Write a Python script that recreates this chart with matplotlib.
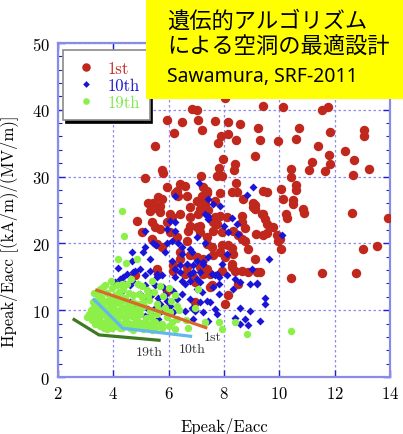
import matplotlib.pyplot as plt
from matplotlib.patches import Rectangle

plt.rcParams['font.family'] = ['cmr10', 'DejaVu Serif']
plt.rcParams['axes.formatter.use_mathtext'] = True

# 1st generation
gen1_x = [8.03, 6.83, 7.01, 9.41, 10.12, 11.53, 11.75,
          5.95, 6.47, 7.07, 7.67, 8.13, 8.58, 9.24, 7.19, 6.20, 10.71, 11.83, 13.04, 13.04,
          7.89, 8.13, 8.42, 7.77, 9.30, 9.96, 10.60, 5.51, 11.39, 12.37, 9.12, 11.79, 7.95, 12.71, 11.17,
          8.40, 11.83, 7.82, 8.37, 10.42, 11.08, 11.65, 13.23, 5.75, 5.81, 5.14, 7.16, 7.74, 7.92, 10.42, 12.65,
          8.43, 5.95, 6.41, 6.59, 7.24, 7.37, 8.28, 8.46, 6.29, 10.59, 10.60, 10.06, 9.42, 9.54,
          13.91, 12.61, 13.01, 13.52, 12.77, 11.53, 10.42,
          10.14, 10.50, 10.48, 10.24, 10.29, 10.87, 10.89,
          9.42, 9.48, 9.78, 9.54, 9.42, 9.90, 10.02, 10.06, 9.14,
          9.12, 9.12, 8.76, 8.70, 8.64, 8.88, 9.12, 9.18, 9.30,
          7.85, 7.67, 7.13, 7.43, 9.06, 9.06,
          7.67, 7.85, 8.10, 8.64, 9.36, 9.54,
          7.61, 7.74, 7.13, 7.61, 7.92, 8.34, 8.52, 8.64, 8.76, 9.96,
          7.37, 7.55, 7.61, 7.92, 8.16, 8.28, 8.34, 7.85, 8.04,
          8.28, 8.28, 8.64, 8.88, 7.92, 8.40, 7.13, 7.37,
          5.26, 5.44, 5.62, 5.75, 5.69, 5.62, 5.69, 5.32, 6.23, 6.35, 6.65, 7.01, 7.19, 7.37,
          6.77, 7.31, 6.05, 6.11, 5.93, 6.41, 6.77, 7.07, 4.84, 5.39, 5.51, 5.69, 5.02,
          6.77, 6.71, 7.01, 7.13, 7.37, 6.05, 6.29, 6.65, 5.39, 5.57, 5.75,
          6.41, 6.41, 6.77, 7.01, 7.25, 6.17, 5.57, 4.78, 6.65,
          6.17, 6.59, 6.89, 6.95, 7.25, 7.49, 7.55, 8.16, 8.52, 5.93, 6.95, 8.04, 7.49, 5.31, 5.61]
gen1_y = [41.7, 40.1, 39.9, 40.6, 40.4, 40.0, 40.4,
          38.5, 38.1, 38.4, 38.3, 38.2, 37.9, 37.3, 37.0, 36.5, 37.3, 36.7, 36.9, 36.1,
          36.0, 36.4, 35.5, 35.0, 35.5, 35.3, 35.6, 34.5, 34.6, 33.9, 33.1, 33.3, 32.7, 32.5, 32.2,
          31.9, 31.9, 31.3, 31.0, 31.1, 31.0, 30.9, 31.2, 31.0, 30.5, 29.8, 30.1, 30.1, 30.1, 29.9, 30.2,
          29.0, 28.5, 28.9, 28.6, 28.4, 27.9, 27.7, 27.7, 27.9, 28.8, 28.0, 28.2, 27.8, 27.7,
          23.8, 24.6, 19.2, 19.6, 15.5, 15.6, 14.8,
          26.7, 26.5, 25.9, 24.4, 23.8, 25.2, 24.6,
          24.4, 23.7, 22.5, 21.6, 21.3, 21.3, 20.7, 19.2, 21.4,
          25.7, 25.2, 22.3, 26.6, 24.1, 19.2, 17.7, 15.7, 15.7,
          27.6, 26.4, 25.2, 25.0, 26.1, 25.4,
          24.0, 24.1, 24.0, 23.2, 24.4, 22.9,
          23.2, 22.9, 22.6, 21.8, 21.7, 21.9, 21.2, 20.7, 20.4, 20.4,
          19.9, 19.4, 18.2, 19.7, 19.7, 19.3, 18.4, 18.7, 17.9,
          16.9, 16.4, 15.8, 15.7, 15.9, 15.8, 16.4, 16.2,
          26.0, 26.1, 26.9, 26.6, 25.6, 25.2, 24.7, 24.9, 27.6, 27.1, 27.1, 26.4, 27.1, 27.6,
          25.4, 25.9, 24.4, 23.9, 23.2, 24.4, 23.9, 24.4, 23.4, 23.2, 22.4, 22.2, 21.7,
          22.6, 21.9, 22.4, 21.7, 20.9, 21.7, 20.9, 20.4, 20.7, 19.9, 19.4,
          18.7, 17.7, 18.2, 17.9, 17.7, 16.7, 16.2, 15.2, 16.4,
          15.9, 15.4, 14.9, 14.2, 15.4, 15.4, 13.7, 12.2, 13.9, 12.9, 11.2, 10.9, 13.4, 12.4, 15.4]

# 10th generation
gen10_x = [7.11, 9.06, 6.23, 8.82, 7.43, 7.61, 7.85, 7.31, 7.43, 8.28, 7.43, 7.98, 8.46, 8.16, 8.52,
           10.08, 9.64, 9.48,
           6.05, 6.23, 5.93, 6.23, 5.14, 5.44, 5.55, 5.93, 6.11, 6.35, 5.14, 4.66, 5.08, 5.87,
           6.47, 6.47, 6.77, 6.83, 7.01, 7.31, 4.66, 5.32, 6.11, 6.41, 6.65, 7.01, 7.25,
           4.18, 4.96, 4.72, 5.32, 5.57, 5.57, 6.23, 6.41, 6.77, 6.89, 7.13,
           8.10, 7.43, 7.92, 9.00, 7.55, 8.10, 7.74, 6.89, 7.25,
           5.75, 6.23, 6.47, 6.77, 7.13, 7.19, 7.67, 7.80, 7.61, 7.80, 8.40, 8.58, 8.94, 9.18,
           8.58, 8.94, 9.48, 9.30, 8.40, 8.58, 8.76, 7.49, 7.37, 7.43, 7.67, 7.74, 7.13,
           6.77, 6.83, 6.47, 6.17, 6.29, 5.93, 6.05, 5.81, 6.59, 7.01, 7.25, 6.95,
           4.77, 5.13, 4.41, 4.59, 4.89, 5.13, 5.49, 4.71, 4.95, 5.13, 5.37, 5.61, 5.86,
           4.77, 5.07, 5.25, 5.49, 5.73, 5.13, 5.37, 5.61, 4.59, 4.29,
           4.66, 7.01, 7.83, 8.34, 9.20, 5.69, 6.17, 6.59, 6.89, 8.88, 4.05, 4.23, 4.35, 4.50]
gen10_y = [29.1, 28.4, 27.1, 27.2, 26.6, 25.9, 25.6, 24.4, 24.1, 23.8, 23.6, 22.6, 22.9, 21.7, 21.4,
           21.2, 17.6, 11.9,
           23.4, 23.2, 22.2, 21.8, 21.9, 20.1, 19.7, 20.1, 20.3, 20.1, 19.4, 18.7, 18.7, 18.7,
           19.4, 18.4, 19.2, 18.7, 20.9, 20.1, 17.4, 17.7, 17.4, 16.7, 16.9, 17.4, 16.9,
           16.3, 16.2, 15.7, 15.9, 15.4, 14.9, 16.2, 15.7, 15.4, 15.7, 15.7,
           18.4, 17.9, 16.9, 16.2, 15.4, 15.2, 15.4, 16.7, 17.2,
           15.2, 14.9, 14.4, 14.4, 14.2, 12.7, 15.2, 14.9, 13.4, 12.4, 14.7, 14.2, 13.9, 13.9,
           10.4, 9.9, 10.9, 8.4, 8.9, 7.9, 8.7, 11.2, 11.4, 8.4, 10.2, 9.4, 11.2,
           11.7, 10.4, 12.4, 12.9, 11.7, 11.4, 10.7, 13.4, 13.9, 13.2, 9.7, 9.9,
           15.9, 15.2, 13.9, 13.7, 13.9, 13.7, 13.7, 12.2, 12.4, 11.9, 12.2, 11.9, 12.2,
           10.7, 10.7, 10.2, 10.4, 9.9, 9.2, 9.4, 8.7, 11.2, 12.7,
           14.4, 14.7, 13.9, 13.2, 14.0, 10.9, 9.7, 9.9, 8.7, 7.8, 14.2, 14.7, 15.0, 15.4]

# 19th generation
gen19_x = [4.31, 4.40, 4.18, 4.46, 4.84, 4.30, 4.48, 7.07, 8.40, 8.84, 10.42,
           6.23, 6.29, 6.05, 6.29, 6.71, 6.23, 5.75, 6.95, 7.80, 7.92, 7.31,
           3.92, 4.63, 5.41,
           3.71, 4.12, 4.88, 5.68,
           3.52, 3.96, 4.34, 5.21, 6.02,
           3.31, 3.77, 4.19, 4.56, 4.92, 5.47,
           3.56, 3.88, 4.27, 4.43, 5.03, 5.81,
           3.42, 3.69, 4.02, 4.36, 4.71, 5.28, 6.08,
           3.49, 3.86, 4.11, 4.52, 4.88, 5.56,
           3.29, 3.61, 3.94, 4.31, 4.66, 5.12, 5.88,
           3.18, 3.46, 3.79, 4.16, 4.44, 4.81, 5.33, 6.38,
           3.11, 3.36, 3.64, 3.97, 4.29, 4.62, 4.96, 5.58,
           3.04, 3.41, 3.72, 4.01, 4.37, 4.69, 5.19, 5.93,
           3.21, 3.52, 3.84, 4.14, 4.51, 4.86, 5.44, 6.62,
           3.32, 3.59, 3.96, 4.26, 4.64, 5.02, 5.31, 5.71,
           3.51, 3.81, 4.09, 4.46, 4.84, 5.16, 5.52, 6.01,
           3.76, 4.31, 4.72, 5.06, 5.39,
           3.61, 4.36, 5.02,
           3.46, 4.06, 4.71, 5.24,
           3.26, 3.62, 4.21, 4.61, 5.06,
           3.36, 3.66, 4.02, 4.29, 4.59, 5.01, 5.62,
           3.24, 3.56, 3.86, 4.16, 4.49, 4.79, 5.36,
           3.41, 3.74, 4.06, 4.41, 4.76, 5.14, 5.49, 6.11,
           3.66, 3.94, 4.24, 4.61, 5.29, 5.76]
gen19_y = [24.9, 21.1, 17.7, 17.1, 17.7, 13.9, 13.9, 13.1, 8.2, 6.4, 6.9,
           12.2, 10.7, 9.7, 8.7, 7.4, 7.2, 7.9, 10.4, 8.2, 7.2, 8.2,
           14.4, 14.6, 14.3,
           13.8, 13.7, 13.9, 13.6,
           13.1, 13.3, 13.2, 13.0, 13.3,
           12.6, 12.5, 12.7, 12.6, 12.4, 12.7,
           12.0, 11.9, 12.1, 11.8, 12.0, 12.1,
           11.5, 11.4, 11.6, 11.5, 11.3, 11.6, 11.4,
           11.0, 10.9, 11.1, 10.8, 11.0, 10.9,
           10.5, 10.4, 10.6, 10.5, 10.3, 10.6, 10.4,
           10.0, 9.9, 10.1, 9.8, 10.0, 10.1, 9.9, 10.0,
           9.5, 9.4, 9.6, 9.5, 9.3, 9.6, 9.4, 9.5,
           9.0, 8.9, 9.1, 8.9, 9.0, 9.1, 8.9, 9.0,
           8.5, 8.4, 8.6, 8.5, 8.3, 8.6, 8.4, 8.5,
           8.0, 7.9, 8.1, 8.0, 7.9, 8.1, 7.9, 8.0,
           7.6, 7.5, 7.7, 7.6, 7.5, 7.6, 7.4, 7.6,
           7.2, 7.3, 7.1, 7.2, 7.1,
           13.5, 13.4, 13.6,
           12.3, 12.2, 12.3, 12.2,
           11.2, 11.2, 11.3, 11.1, 11.2,
           10.2, 10.3, 10.2, 10.2, 10.1, 10.3, 10.2,
           9.2, 9.3, 9.2, 9.2, 9.1, 9.3, 9.2,
           8.2, 8.2, 8.3, 8.2, 8.1, 8.2, 8.3, 8.2,
           7.4, 7.3, 7.4, 7.4, 7.3, 7.4]

# Pareto fronts of each generation
front1_x = [3.40, 7.34]
front1_y = [13.0, 7.4]
front10_x = [3.30, 4.34, 6.79]
front10_y = [11.6, 7.3, 6.1]
front19_x = [2.58, 3.48, 5.65]
front19_y = [8.6, 6.3, 5.5]

fig = plt.figure(figsize=(4.03, 4.35), dpi=100)
ax = fig.add_axes([0.144, 0.131, 0.824, 0.768])

ax.plot(gen1_x, gen1_y, 'o', color='#c0281e', ms=6.8, mec='none', label='1st', zorder=3)
ax.plot(gen10_x, gen10_y, 'D', color='#1a14d6', ms=3.8, mec='none', label='10th', zorder=4)
ax.plot(gen19_x, gen19_y, 'o', color='#8cf048', ms=5.3, mec='none', label='19th', zorder=5)

ax.plot(front1_x, front1_y, color='#d9692a', lw=2.3, zorder=6)
ax.plot(front10_x, front10_y, color='#62b8ee', lw=2.3, zorder=6)
ax.plot(front19_x, front19_y, color='#3e7a22', lw=2.3, zorder=6)
ax.text(7.6, 6.0, '1st', fontsize=10, color='#333333', ha='center', va='center', zorder=7)
ax.text(6.85, 4.2, '10th', fontsize=10, color='#333333', ha='center', va='center', zorder=7)
ax.text(5.3, 3.8, '19th', fontsize=10, color='#333333', ha='center', va='center', zorder=7)

ax.set_xlim(2, 14)
ax.set_ylim(0, 50)
ax.set_xticks(range(2, 15, 2))
ax.set_yticks(range(0, 51, 10))
ax.set_yticks(range(0, 51, 2), minor=True)

axis_col = '#8a8ae8'
for sp in ax.spines.values():
    sp.set_color(axis_col)
    sp.set_linewidth(1.6)
ax.tick_params(which='both', direction='in', top=True, right=True, color='#2020d0',
               labelsize=12, pad=6)
ax.tick_params(which='major', length=5, width=1)
ax.tick_params(which='minor', length=3, width=0.8)
ax.grid(which='major', color='#8c8cf0', linestyle=(0, (2, 2)), linewidth=0.9)
ax.set_axisbelow(True)

ax.set_xlabel('Epeak/Eacc', fontsize=12, labelpad=11)
ax.set_ylabel('Hpeak/Eacc [(kA/m)/(MV/m)]', fontsize=12)
ax.yaxis.set_label_coords(-0.12, 0.44)

leg = ax.legend(loc='upper left', bbox_to_anchor=(0.015, 0.978), borderaxespad=0,
                fontsize=12, labelcolor=['#c0281e', '#1a14d6', '#7ee84a'], handlelength=1.6,
                handletextpad=0.45, borderpad=0.6, labelspacing=0.12, fancybox=False,
                shadow={'color': 'black', 'alpha': 1.0}, framealpha=1, markerscale=0.9)
leg.get_frame().set_edgecolor('#8a8a8a')
leg.get_frame().set_linewidth(1.2)

# title banner
fig.add_artist(Rectangle((0.362, 0.770), 0.64, 0.232, transform=fig.transFigure,
                         facecolor='#ffff00', edgecolor='none', zorder=10))
fig.text(0.414, 0.952, '遺伝的アルゴリズム', fontsize=16, family='Noto Sans CJK JP',
         ha='left', va='center', zorder=11)
fig.text(0.414, 0.892, 'による空洞の最適設計', fontsize=16, family='Noto Sans CJK JP',
         ha='left', va='center', zorder=11)
fig.text(0.414, 0.823, 'Sawamura, SRF-2011', fontsize=14, family='Noto Sans',
         ha='left', va='center', zorder=11)

fig.savefig('out.png', dpi=100)
